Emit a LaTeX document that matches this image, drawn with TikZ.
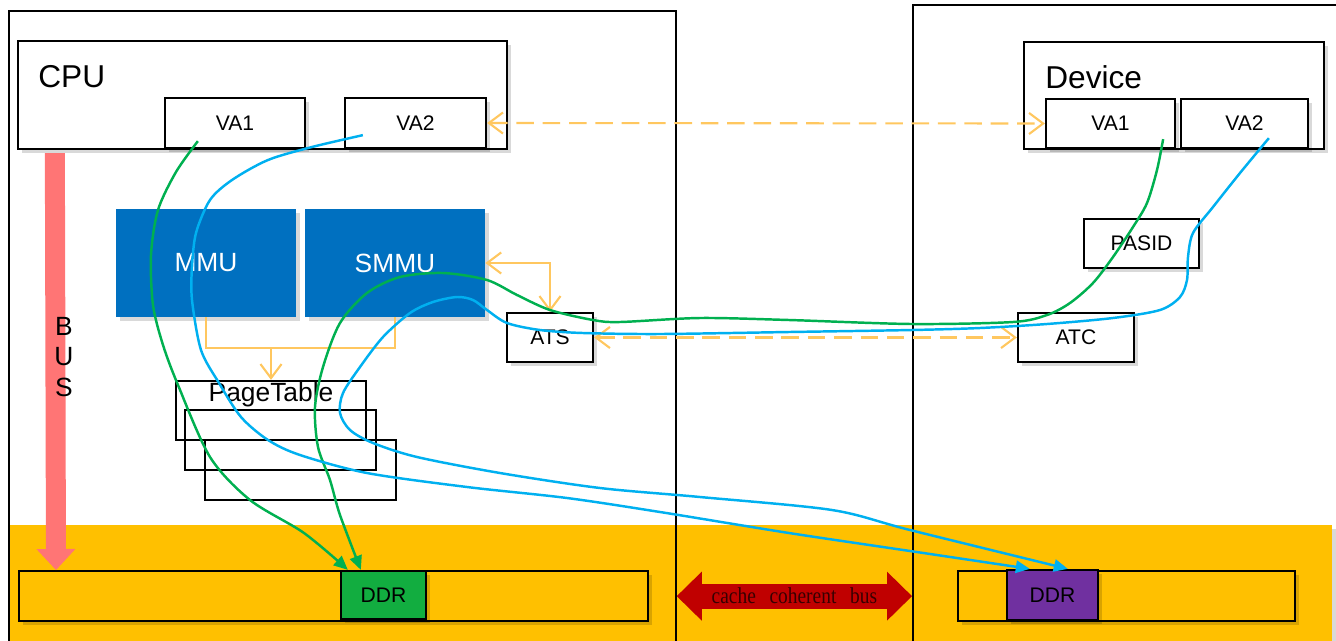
\documentclass[tikz,border=0pt]{standalone}
\usepackage{fontspec}
\setmainfont{Liberation Sans}
\newfontfamily\busfont[FakeStretch=0.85]{Liberation Serif}
\usetikzlibrary{arrows.meta,positioning,shadows}
\definecolor{bandyellow}{RGB}{255,192,0}
\definecolor{mmublue}{RGB}{0,112,192}
\definecolor{busred}{RGB}{255,117,117}
\definecolor{linkorange}{RGB}{255,199,95}
\definecolor{vagreen}{RGB}{0,176,80}
\definecolor{vablue}{RGB}{0,176,240}
\definecolor{ddrgreen}{RGB}{18,173,64}
\definecolor{ddrpurple}{RGB}{112,48,160}
\definecolor{cohred}{RGB}{192,0,0}
\definecolor{cohtext}{RGB}{55,0,0}

\begin{document}
\begin{tikzpicture}[x=0.02cm, y=-0.02cm,
    sz/.style 2 args={minimum width=#1*0.02cm, minimum height=#2*0.02cm},
    soft/.style={drop shadow={shadow xshift=2pt, shadow yshift=-2pt, fill=black, opacity=0.15}},
    frame/.style={draw, line width=1pt, inner sep=0pt},
    box/.style={draw, line width=1.3pt, fill=white, inner sep=0pt, soft, font=\fontsize{12}{12}\selectfont},
    unit/.style={fill=mmublue, inner sep=0pt, soft, text=white, font=\fontsize{15}{15}\selectfont},
    ptbox/.style={draw, line width=1.3pt, inner sep=0pt},
    bar/.style={draw, line width=1.3pt, fill=bandyellow, inner sep=0pt, soft},
    title/.style={inner sep=0pt, font=\fontsize{18}{18}\selectfont},
    link/.style={draw=linkorange, line width=1.2pt, >={Straight Barb[length=8pt,width=12pt]}},
    flowgreen/.style={draw=vagreen, line width=1.4pt, >={Triangle[length=8pt,width=7pt]}},
    flowblue/.style={draw=vablue, line width=1.4pt, >={Triangle[length=8pt,width=7pt]}}]
    \useasboundingbox (0,0) rectangle (1336,640);
    \clip (0,0) rectangle (1336,640);

    % Memory band
    \node[fill=bandyellow, soft, sz={1324}{140}, anchor=north west] (band) at (8,525) {};

    % Host and device sides
    \node[frame, sz={667}{660}, anchor=north west] (host) at (8,10) {};
    \node[frame, sz={440}{660}, anchor=north west] (devside) at (912,4) {};

    % DDR bars
    \node[bar, sz={629}{50}, anchor=north west] (lbar) at (18,570) {};
    \node[box, fill=ddrgreen, sz={85}{48}] (lddr) at (383.5,595) {DDR};
    \node[bar, sz={337}{50}, anchor=north west] (rbar) at (957,570) {};
    \node[box, fill=ddrpurple, sz={91}{50}] (rddr) at (1052.5,595) {DDR};

    % CPU
    \node[box, sz={489}{108}] (cpu) at (262.5,95) {};
    \node[title, anchor=west] (cpuname) at (38,77) {CPU};
    \node[box, sz={140}{50}] (cva1) at (235,123) {VA1};
    \node[box, sz={141}{50}] (cva2) at (415.5,123) {VA2};

    % MMU, SMMU, ATS
    \node[unit, sz={180}{108}] (mmu) at (206,263) {MMU};
    \node[unit, sz={180}{108}] (smmu) at (395,263) {SMMU};
    \node[box, sz={86}{49}] (ats) at (550,337.5) {ATS};

    % Page tables
    \node[ptbox, sz={190}{59}] (pt1) at (271,410.5) {};
    \node[ptbox, sz={191}{60}] (pt2) at (280.5,440) {};
    \node[ptbox, sz={191}{60}] (pt3) at (300.5,470) {};
    \node[inner sep=0pt, font=\fontsize{15}{15}\selectfont, below=1pt of pt1.north] (ptname) {PageTable};

    % Device
    \node[box, sz={300}{107}] (dev) at (1174,95.5) {};
    \node[title, anchor=west] (devname) at (1045,77) {Device};
    \node[box, sz={129}{49}] (dva1) at (1110.5,123.5) {VA1};
    \node[box, sz={127}{49}] (dva2) at (1244.5,123.5) {VA2};
    \node[box, sz={115}{49}] (pasid) at (1141.5,243.5) {PASID};
    \node[box, sz={116}{49}] (atc) at (1076,337.5) {ATC};

    % Orange links
    \coordinate (ptjoin) at (271,348);
    \draw[link] (mmu.south) |- (ptjoin) -| (smmu.south);
    \draw[link, ->] (ptjoin) -- (pt1.north);
    \draw[link, <->] (smmu.east) -| (ats.north);
    \draw[link, <->, dash pattern=on 10pt off 5pt] (cva2.east) -- (dva1.west);
    \draw[link, <->, dash pattern=on 10pt off 5pt] (ats.east) -- (atc.west);

    % BUS
    \draw[busred, line width=0.4cm, -{Triangle[width=0.78cm, length=0.42cm, line width=0pt]}]
      ([shift={(38,3)}]cpu.south west) -- ([shift={(38,0)}]lbar.north west);
    \node[inner sep=0pt, align=center, font=\fontsize{15}{17.6}\selectfont] (busname) at (64,357) {B\\U\\S};

    % cache coherent bus
    \draw[cohred, line width=0.5cm,
      {Triangle[width=0.98cm, length=0.5cm, line width=0pt]}-{Triangle[width=0.98cm, length=0.5cm, line width=0pt]}]
      (host.east |- lbar.east) -- (devside.west |- lbar.east)
      node[midway, text=cohtext, font=\busfont\fontsize{13}{13}\selectfont] (ccb)
        {cache\hspace{0.6em}coherent\hspace{0.6em}bus};

    % Translation paths
    \coordinate (g1s) at ([shift={(34,-8)}]cva1.south west);
    \coordinate (g1e) at ([shift={(8,0)}]lddr.north west);
    \coordinate (g2s) at ([shift={(-13,-10)}]dva1.south east);
    \coordinate (g2e) at ([shift={(21,0)}]lddr.north west);
    \coordinate (b1s) at ([shift={(19,-14)}]cva2.south west);
    \coordinate (b1e) at ([shift={(24,0)}]rddr.north west);
    \coordinate (b2s) at ([shift={(89,-11)}]dva2.south west);
    \coordinate (b2e) at ([shift={(62,0)}]rddr.north west);

    \draw[flowgreen, ->] plot[smooth, tension=0.5] coordinates {(g1s) (176,172) (158,210) (151,255)
      (153,305) (163,345) (178,385) (210,457) (250,500) (304,533) (g1e)};
    \draw[flowgreen, ->] plot[smooth, tension=0.5] coordinates {(g2s) (1157,170) (1147,203) (1133,227)
      (1113,257) (1093,283) (1070,303) (1047,315) (1013,322) (912,324) (789,320) (700,318) (620,322)
      (593,320) (550,310) (517,295) (487,280) (443,273) (400,277) (367,293) (340,323) (323,367)
      (315,407) (318,447) (330,480) (340,515) (g2e)};
    \draw[flowblue, ->] plot[smooth, tension=0.5] coordinates {(b1s) (312,147) (268,160) (232,180)
      (210,200) (196,233) (192,267) (192,300) (201,350) (219,383) (241,417) (268,440) (300,455)
      (367,473) (467,487) (567,498) (660,512) (789,533) (910,551) (b1e)};
    \draw[flowblue, ->] plot[smooth, tension=0.5] coordinates {(b2s) (1240,173) (1213,207) (1193,233)
      (1188,257) (1187,280) (1180,297) (1160,310) (1113,318) (1047,324) (980,328) (912,330)
      (789,332) (660,334) (583,333) (540,330) (507,323) (487,310) (473,300) (457,297) (433,302)
      (410,313) (383,337) (360,367) (343,393) (340,413) (350,430) (373,443) (417,457) (500,473)
      (600,488) (700,497) (832,510) (910,530) (b2e)};
\end{tikzpicture}
\end{document}
